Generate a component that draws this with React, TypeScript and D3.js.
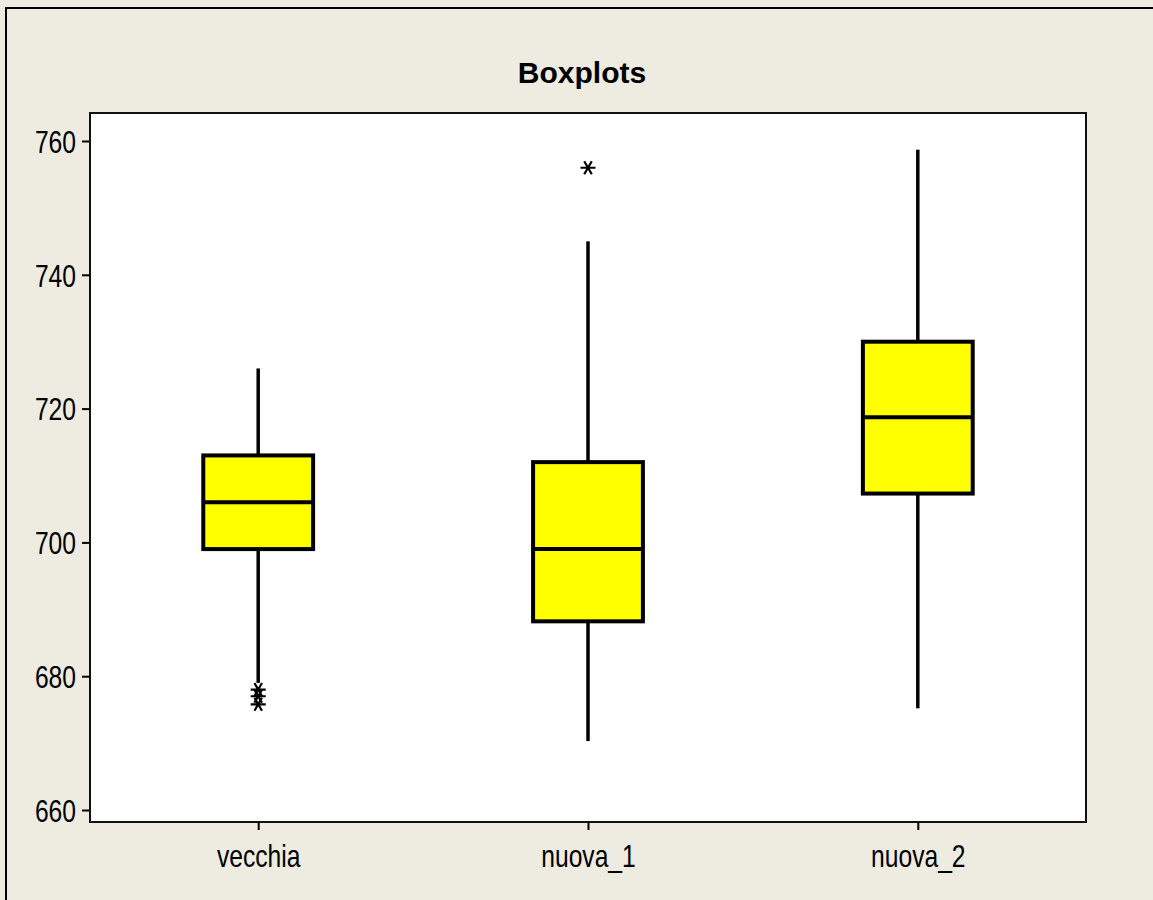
import * as d3 from 'd3';
import React, { useEffect, useRef } from 'react';

// groups
const categories = ['vecchia', 'nuova_1', 'nuova_2'];
const whiskerLow = [679, 670.3, 675.2];
const q1 = [699, 688.2, 707.3];
const median = [706, 699, 718.7];
const q3 = [713, 712, 730];
const whiskerHigh = [726, 745, 758.7];
const outliers = [[678, 677, 675.8], [756], []];
const yTicks = [660, 680, 700, 720, 740, 760];
const title = 'Boxplots';

const W = 1153;
const H = 900;

export default function App() {
  const ref = useRef<SVGSVGElement>(null);

  useEffect(() => {
    const svg = d3.select(ref.current);
    svg.selectAll('*').remove();

    const left = 90, right = 1086, top = 113, bottom = 822;
    const labelFont = "'Liberation Sans', Arial, sans-serif";
    const squeeze = 0.77; // labels are in a narrow face

    svg.append('rect')
      .attr('width', W).attr('height', H)
      .attr('fill', '#eeebe1');

    // outer frame runs off the right and bottom edge
    svg.append('rect')
      .attr('x', 6).attr('y', 8)
      .attr('width', W + 20).attr('height', H + 20)
      .attr('fill', 'none')
      .attr('stroke', '#000')
      .attr('stroke-width', 2);

    svg.append('rect')
      .attr('x', left).attr('y', top)
      .attr('width', right - left).attr('height', bottom - top)
      .attr('fill', '#fff')
      .attr('stroke', '#111')
      .attr('stroke-width', 2);

    svg.append('text')
      .attr('x', 582)
      .attr('y', 83)
      .attr('text-anchor', 'middle')
      .attr('font-family', labelFont)
      .attr('font-weight', 'bold')
      .attr('font-size', 30)
      .attr('fill', '#000')
      .text(title);

    const y = d3.scaleLinear()
      .domain([660 - 12 / 6.69, 760 + 28 / 6.69])
      .range([bottom, top]);

    const x = d3.scalePoint<string>()
      .domain(categories)
      .range([left, right])
      .padding(0.51);

    const boxW = x.step() * 0.333;

    // axes
    const yAxis = svg.append('g')
      .attr('transform', 'translate(' + left + ',0)')
      .call(d3.axisLeft(y).tickValues(yTicks).tickSize(8).tickFormat(d3.format('d')));
    yAxis.select('.domain').remove();
    yAxis.selectAll('line').attr('stroke', '#000').attr('stroke-width', 2);
    yAxis.selectAll('text')
      .attr('x', 0)
      .attr('dy', '0.35em')
      .attr('transform', 'translate(-14,0) scale(' + squeeze + ',1)')
      .attr('font-family', labelFont)
      .attr('font-size', 32)
      .attr('fill', '#000');

    const xAxis = svg.append('g')
      .attr('transform', 'translate(0,' + bottom + ')')
      .call(d3.axisBottom(x).tickSize(8));
    xAxis.select('.domain').remove();
    xAxis.selectAll('line').attr('stroke', '#000').attr('stroke-width', 2);
    xAxis.selectAll('text')
      .attr('y', 0)
      .attr('dy', '0.71em')
      .attr('transform', 'translate(0,22) scale(' + squeeze + ',1)')
      .attr('font-family', labelFont)
      .attr('font-size', 32)
      .attr('fill', '#000');

    const boxes = svg.selectAll('g.box')
      .data(categories)
      .enter()
      .append('g')
      .attr('class', 'box')
      .attr('transform', (d) => 'translate(' + x(d) + ',0)');

    boxes.append('line')
      .attr('y1', (d, i) => y(q3[i])).attr('y2', (d, i) => y(whiskerHigh[i]))
      .attr('stroke', '#000').attr('stroke-width', 3.5);
    boxes.append('line')
      .attr('y1', (d, i) => y(q1[i])).attr('y2', (d, i) => y(whiskerLow[i]))
      .attr('stroke', '#000').attr('stroke-width', 3.5);

    boxes.append('rect')
      .attr('x', -boxW / 2)
      .attr('y', (d, i) => y(q3[i]))
      .attr('width', boxW)
      .attr('height', (d, i) => y(q1[i]) - y(q3[i]))
      .attr('fill', '#ffff00')
      .attr('stroke', '#000')
      .attr('stroke-width', 4);

    boxes.append('line')
      .attr('x1', -boxW / 2).attr('x2', boxW / 2)
      .attr('y1', (d, i) => y(median[i])).attr('y2', (d, i) => y(median[i]))
      .attr('stroke', '#000').attr('stroke-width', 4);

    const star = d3.symbol().type(d3.symbolAsterisk).size(160);
    boxes.each(function (d, i) {
      d3.select(this).selectAll('path.out')
        .data(outliers[i])
        .enter()
        .append('path')
        .attr('class', 'out')
        .attr('transform', (v) => 'translate(0,' + y(v) + ') rotate(90)')
        .attr('d', star())
        .attr('fill', 'none')
        .attr('stroke', '#000')
        .attr('stroke-width', 2.2);
    });
  }, []);

  return (
    <svg ref={ref} width={W} height={H}
      style={{ position: 'absolute', left: 0, top: 0, display: 'block' }} />
  );
}
